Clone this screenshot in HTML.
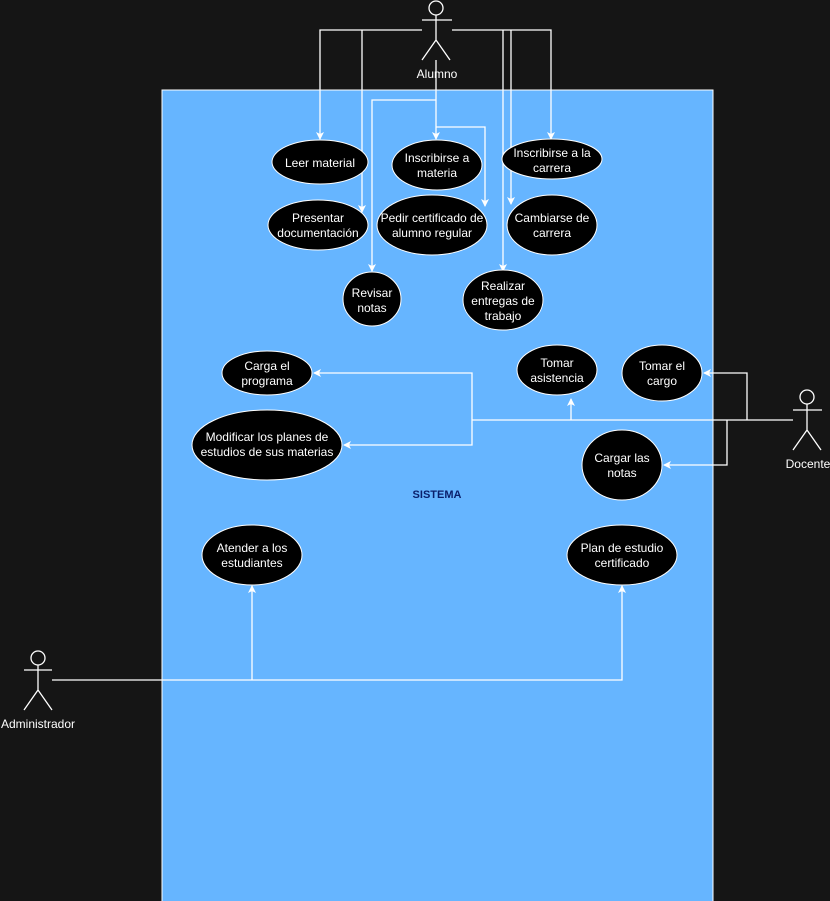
<!DOCTYPE html>
<html><head><meta charset="utf-8"><style>
html,body{margin:0;padding:0;background:#151515;}
svg{display:block;font-family:"Liberation Sans",sans-serif;}
</style></head><body>
<svg width="830" height="901" viewBox="0 0 830 901" xmlns="http://www.w3.org/2000/svg">
<defs>
<marker id="a" markerWidth="8" markerHeight="8" refX="7" refY="4" orient="auto" markerUnits="userSpaceOnUse">
<path d="M0,0 L8,4 L0,8 L2,4 Z" fill="#fff"/>
</marker>
</defs>
<rect x="0" y="0" width="830" height="901" fill="#151515"/>
<rect x="162" y="90" width="551" height="812" fill="#66b5ff" stroke="#fff" stroke-width="1"/>

<g fill="none" stroke="#fff" stroke-width="1.3">
<!-- Alumno actor -->
<circle cx="436" cy="8" r="7"/>
<path d="M436,15V40M422,20H452M436,40L422,60M436,40L450,60"/>
<!-- Alumno connectors -->
<path d="M422,30H320V139" marker-end="url(#a)"/>
<path d="M362,30V212" marker-end="url(#a)"/>
<path d="M452,30H551V139" marker-end="url(#a)"/>
<path d="M503,30V271" marker-end="url(#a)"/>
<path d="M511,30V204" marker-end="url(#a)"/>
<path d="M436,60V139" marker-end="url(#a)"/>
<path d="M436,100H372V271" marker-end="url(#a)"/>
<path d="M436,127H485V206" marker-end="url(#a)"/>
<!-- Docente actor -->
<circle cx="807" cy="397" r="7"/>
<path d="M807,404V430M793,410H822M807,430L793,450M807,430L821,450"/>
<path d="M793,420H472"/>
<path d="M472,420V373H314" marker-end="url(#a)"/>
<path d="M472,420V445H344" marker-end="url(#a)"/>
<path d="M571,420V399" marker-end="url(#a)"/>
<path d="M747,420V373H704" marker-end="url(#a)"/>
<path d="M727,420V465H664" marker-end="url(#a)"/>
<!-- Administrador actor -->
<circle cx="38" cy="658" r="7"/>
<path d="M38,665V690M24,670H52M38,690L24,710M38,690L52,710"/>
<path d="M52,680H622V586" marker-end="url(#a)"/>
<path d="M252,680V586" marker-end="url(#a)"/>
</g>

<g fill="#000" stroke="#fff" stroke-width="1">
<ellipse cx="320" cy="162" rx="48" ry="22"/>
<ellipse cx="437" cy="165" rx="45" ry="25"/>
<ellipse cx="552" cy="159" rx="50" ry="20"/>
<ellipse cx="318" cy="225" rx="50" ry="25"/>
<ellipse cx="432" cy="225" rx="55" ry="30"/>
<ellipse cx="552" cy="225" rx="45" ry="30"/>
<ellipse cx="372" cy="299" rx="29" ry="27"/>
<ellipse cx="503" cy="300" rx="40" ry="30"/>
<ellipse cx="267" cy="373" rx="45" ry="22"/>
<ellipse cx="557" cy="370" rx="40" ry="25"/>
<ellipse cx="662" cy="373" rx="40" ry="28"/>
<ellipse cx="267" cy="445" rx="75" ry="35"/>
<ellipse cx="622" cy="465" rx="40" ry="35"/>
<ellipse cx="252" cy="555" rx="50" ry="30"/>
<ellipse cx="622" cy="555" rx="55" ry="30"/>
</g>

<g fill="#fff" font-size="12" text-anchor="middle">
<text x="437" y="78">Alumno</text>
<text x="808" y="468">Docente</text>
<text x="38" y="728">Administrador</text>
<text x="320" y="167">Leer material</text>
<text x="437" y="162">Inscribirse a</text><text x="437" y="177">materia</text>
<text x="552" y="157">Inscribirse a la</text><text x="552" y="172">carrera</text>
<text x="318" y="222">Presentar</text><text x="318" y="237">documentación</text>
<text x="432" y="222">Pedir certificado de</text><text x="432" y="237">alumno regular</text>
<text x="552" y="222">Cambiarse de</text><text x="552" y="237">carrera</text>
<text x="372" y="297">Revisar</text><text x="372" y="312">notas</text>
<text x="503" y="290">Realizar</text><text x="503" y="305">entregas de</text><text x="503" y="320">trabajo</text>
<text x="267" y="370">Carga el</text><text x="267" y="385">programa</text>
<text x="557" y="367">Tomar</text><text x="557" y="382">asistencia</text>
<text x="662" y="370">Tomar el</text><text x="662" y="385">cargo</text>
<text x="267" y="441">Modificar los planes de</text><text x="267" y="456">estudios de sus materias</text>
<text x="622" y="462">Cargar las</text><text x="622" y="477">notas</text>
<text x="252" y="552">Atender a los</text><text x="252" y="567">estudiantes</text>
<text x="622" y="552">Plan de estudio</text><text x="622" y="567">certificado</text>
</g>
<text x="437" y="498" fill="#0a1f6b" font-size="11" font-weight="bold" text-anchor="middle">SISTEMA</text>
</svg>
</body></html>
